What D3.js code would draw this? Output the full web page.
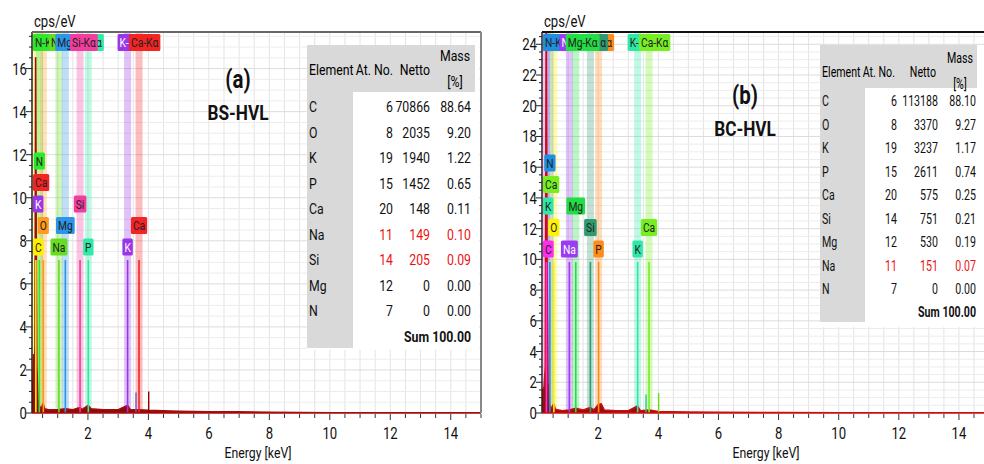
<!DOCTYPE html>
<html>
<head>
<meta charset="utf-8">
<script src="https://cdn.jsdelivr.net/npm/d3@7/dist/d3.min.js"></script>
<style>
  body { margin: 0; background: #fff; }
  svg { font-family: 'Roboto', 'Liberation Sans', sans-serif; }
</style>
</head>
<body>
<svg id="fig" width="984" height="464"></svg>
<script>
// ---- data ----
// spectrum points [energy keV, cps/eV]
const spectrumA = [[0.15,0],[0.18,1.4],[0.2,2.7],[0.22,1.0],[0.25,3.2],[0.27,16.5],[0.29,8],[0.31,2.2],[0.35,0.6],[0.4,0.3],
  [0.45,0.2],[0.52,0.45],[0.56,0.2],[0.7,0.15],[1.0,0.15],[1.25,0.2],[1.5,0.15],[1.74,0.25],[1.8,0.15],[2.01,0.35],
  [2.1,0.2],[2.5,0.15],[3.0,0.15],[3.31,0.35],[3.4,0.15],[3.7,0.15],[4.0,0.12],[5,0.08],[6,0.06],[7,0.05],[8,0.03],
  [9,0.02],[10,0.01],[15,0.01]];
const spectrumB = [[0.13,0],[0.15,1.5],[0.2,1.7],[0.24,3],[0.27,26],[0.3,9],[0.33,2],[0.38,0.5],[0.45,0.3],[0.52,0.6],
  [0.57,0.25],[0.8,0.15],[1.04,0.2],[1.25,0.3],[1.5,0.2],[1.74,0.35],[1.85,0.2],[2.01,0.55],[2.1,0.6],[2.2,0.2],
  [2.6,0.15],[3.0,0.15],[3.31,0.45],[3.4,0.15],[3.69,0.2],[4.0,0.1],[5,0.06],[6,0.05],[8,0.03],[10,0.02],[15,0.01]];

// identified K-alpha lines
const lineElements = ['C', 'N', 'O', 'Na', 'Mg', 'Si', 'P', 'K', 'Ca'];
const lineKeV = [0.277, 0.392, 0.525, 1.041, 1.253, 1.740, 2.013, 3.312, 3.690];
// L lines labelled at the low-energy end
const lLineElements = ['K', 'Ca'];
const lLineKeV = [0.26, 0.341];
// K-beta stubs
const kbElements = ['K', 'Ca'];
const kbKeV = [3.59, 4.01];
const kbCpsA = [0.95, 1.0];
const kbCpsB = [1.2, 1.3];

// quantification tables
const tabElemA = ['C', 'O', 'K', 'P', 'Ca', 'Na', 'Si', 'Mg', 'N'];
const tabAtNoA = [6, 8, 19, 15, 20, 11, 14, 12, 7];
const tabNettoA = [70866, 2035, 1940, 1452, 148, 149, 205, 0, 0];
const tabMassA = [88.64, 9.20, 1.22, 0.65, 0.11, 0.10, 0.09, 0.00, 0.00];
const tabFlagA = ['Na', 'Si'];

const tabElemB = ['C', 'O', 'K', 'P', 'Ca', 'Si', 'Mg', 'Na', 'N'];
const tabAtNoB = [6, 8, 19, 15, 20, 14, 12, 11, 7];
const tabNettoB = [113188, 3370, 3237, 2611, 575, 751, 530, 151, 0];
const tabMassB = [88.10, 9.27, 1.17, 0.74, 0.25, 0.21, 0.19, 0.07, 0.00];
const tabFlagB = ['Na'];

const xTicks = [2, 4, 6, 8, 10, 12, 14];
const yTicksA = [0, 2, 4, 6, 8, 10, 12, 14, 16];
const yTicksB = [0, 2, 4, 6, 8, 10, 12, 14, 16, 18, 20, 22, 24];

// horizontal squeeze so Roboto reads like the narrow original face
const SQ = 0.82;
const place = (x, y, s = SQ) => `translate(${x},${y}) scale(${s},1)`;

class EdsPanel {

  constructor(_config) {
    this.config = _config;
    this.initVis();
  }

  initVis() {
    let vis = this;
    const c = vis.config;

    vis.xScale = d3.scaleLinear().domain(c.xDomain).range(c.xRange);
    vis.yScale = d3.scaleLinear().domain([0, c.yMax]).range([c.bottom, c.top]);

    vis.g = d3.select('#fig').append('g');
    vis.left = c.xRange[0];
    vis.right = Math.min(c.xRange[1], 984);

    vis.clipId = 'clip-' + c.id;
    vis.g.append('clipPath').attr('id', vis.clipId)
      .append('rect')
      .attr('x', vis.left).attr('y', c.top)
      .attr('width', vis.right - vis.left).attr('height', c.bottom - c.top);

    // scratch text used to measure label widths
    vis.meas = vis.g.append('text').attr('font-size', 12.5).attr('visibility', 'hidden');

    vis.renderVis();
  }

  textW(s) {
    this.meas.text(s);
    return this.meas.node().getComputedTextLength() * SQ;
  }

  renderVis() {
    let vis = this;
    const c = vis.config;
    const x = vis.xScale, y = vis.yScale;

    // light grid
    const grid = vis.g.append('g').attr('clip-path', `url(#${vis.clipId})`);
    grid.selectAll('.vgrid')
      .data(d3.range(0.5, 15.01, 0.5))
      .join('line')
      .attr('x1', d => x(d)).attr('x2', d => x(d))
      .attr('y1', c.top).attr('y2', c.bottom)
      .attr('stroke', '#e3e3e3').attr('stroke-width', 1);
    grid.selectAll('.hgrid')
      .data(d3.range(0.5, c.yMax, 0.5))
      .join('line')
      .attr('x1', vis.left).attr('x2', vis.right)
      .attr('y1', d => y(d)).attr('y2', d => y(d))
      .attr('stroke', d => d % 2 === 0 ? '#dcdcdc' : '#ececec').attr('stroke-width', 1);

    // translucent bands for every identified line
    const lines = lineElements.map((el, i) => ({ el, kev: lineKeV[i] }));
    const marks = vis.g.append('g').attr('clip-path', `url(#${vis.clipId})`);
    marks.selectAll('.band')
      .data(lines)
      .join('rect')
      .attr('x', d => x(d.kev) - 3.5).attr('width', 7)
      .attr('y', c.top).attr('height', c.bottom - c.top)
      .attr('fill', d => c.colors[d.el]).attr('opacity', 0.3);

    // spectrum
    const area = d3.area()
      .x(d => x(d[0]))
      .y0(y(0))
      .y1(d => y(d[1]));
    marks.append('path')
      .datum(c.spectrum)
      .attr('d', area)
      .attr('fill', c.specFill)
      .attr('stroke', c.specStroke)
      .attr('stroke-width', 1.6)
      .attr('stroke-linejoin', 'round');

    // solid stems under the labels
    marks.selectAll('.stem')
      .data(lines)
      .join('line')
      .attr('x1', d => x(d.kev)).attr('x2', d => x(d.kev))
      .attr('y1', c.labelBase + 13).attr('y2', y(0))
      .attr('stroke', d => c.colors[d.el]).attr('stroke-width', 1.6);

    // K-beta stubs
    const kb = kbElements.map((el, i) => ({ el, kev: kbKeV[i], v: c.kbCps[i] }));
    marks.selectAll('.kb')
      .data(kb)
      .join('line')
      .attr('x1', d => x(d.kev)).attr('x2', d => x(d.kev))
      .attr('y1', d => y(d.v)).attr('y2', y(0))
      .attr('stroke', d => c.kbColors[d.el]).attr('stroke-width', 1.4);

    vis.renderTopTags();

    // tiered element tags
    const tagG = vis.g.append('g');
    lines.forEach(d => {
      vis.addTag(tagG, d.el, d.el, x(d.kev), c.labelBase - c.tiers[d.el] * 21.5 - 8.5);
    });
    lLineElements.forEach((el, i) => {
      vis.addTag(tagG, el, el, x(lLineKeV[i]), c.labelBase - c.lTiers[el] * 21.5 - 8.5);
    });

    // y axis
    vis.g.append('line')
      .attr('x1', vis.left).attr('x2', vis.left)
      .attr('y1', c.top).attr('y2', c.bottom)
      .attr('stroke', '#222').attr('stroke-width', 1.5);
    vis.g.selectAll('.yminor')
      .data(d3.range(0, c.yMax, 0.5))
      .join('line')
      .attr('x1', vis.left).attr('x2', d => vis.left - (d % 2 === 0 ? 6 : 3))
      .attr('y1', d => y(d)).attr('y2', d => y(d))
      .attr('stroke', '#222').attr('stroke-width', 1);
    vis.g.selectAll('.ylab')
      .data(c.yTicks)
      .join('text')
      .attr('transform', d => place(vis.left - 5, y(d) + 6))
      .attr('text-anchor', 'end')
      .attr('font-size', 16).attr('fill', '#111')
      .text(d => d);

    // x axis
    vis.g.append('line')
      .attr('x1', vis.left).attr('x2', vis.right)
      .attr('y1', y(0)).attr('y2', y(0))
      .attr('stroke', c.specStroke).attr('stroke-width', 1.6);
    vis.g.selectAll('.xminor')
      .data(d3.range(0.5, 15.01, 0.5))
      .join('line')
      .attr('x1', d => x(d)).attr('x2', d => x(d))
      .attr('y1', y(0) + 1).attr('y2', d => y(0) + (d % 2 === 0 ? 7 : 5))
      .attr('stroke', '#333').attr('stroke-width', 1);
    vis.g.selectAll('.xlab')
      .data(xTicks)
      .join('text')
      .attr('transform', d => place(x(d), y(0) + 26))
      .attr('text-anchor', 'middle')
      .attr('font-size', 16).attr('fill', '#111')
      .text(d => d);

    vis.g.append('text')
      .attr('transform', place(c.energyX, 458))
      .attr('text-anchor', 'middle')
      .attr('font-size', 15).attr('fill', '#111')
      .text('Energy [keV]');
    vis.g.append('text')
      .attr('transform', place(vis.left + 2, 27))
      .attr('font-size', 16).attr('fill', '#111')
      .text('cps/eV');

    // frame: top and right
    vis.g.append('line')
      .attr('x1', vis.left).attr('x2', vis.right)
      .attr('y1', c.top).attr('y2', c.top)
      .attr('stroke', c.frameColor).attr('stroke-width', 2);
    if (c.xRange[1] < 984) {
      vis.g.append('line')
        .attr('x1', vis.right).attr('x2', vis.right)
        .attr('y1', c.top).attr('y2', c.bottom)
        .attr('stroke', '#888').attr('stroke-width', 2);
    }

    // sample title
    vis.g.append('text')
      .attr('transform', place(c.titleX, c.titleY))
      .attr('text-anchor', 'middle')
      .attr('font-size', 25).attr('font-weight', 'bold').attr('fill', '#111')
      .text(c.title);
    vis.g.append('text')
      .attr('transform', place(c.titleX, c.titleY + 32))
      .attr('text-anchor', 'middle')
      .attr('font-size', 21).attr('font-weight', 'bold').attr('fill', '#111')
      .text(c.subtitle);

    vis.renderTable();
  }

  // top row of line names, each partly hidden by the next one drawn
  renderTopTags() {
    let vis = this;
    const c = vis.config;
    const boxes = c.topOrder.map(el => {
      const label = el + '-K\u03b1';
      const w = vis.textW(label) + 4;
      const left = Math.max(vis.left + 1, vis.xScale(lineKeV[lineElements.indexOf(el)]) - 10);
      return { el, label, left, right: left + w };
    });
    boxes.forEach((b, i) => {
      let a = b.left, e = b.right, tail = false;
      boxes.slice(i + 1).forEach(o => {
        if (o.right <= a || o.left >= e) return;
        if (o.left <= a + 0.5) { a = Math.max(a, o.right); tail = true; }
        else e = Math.min(e, o.left);
      });
      b.a = a; b.e = e; b.tail = tail;
    });

    const g = vis.g.append('g');
    boxes.forEach(b => {
      g.append('rect')
        .attr('x', b.left).attr('y', c.top + 2)
        .attr('width', b.right - b.left).attr('height', 17)
        .attr('rx', 1.5).attr('fill', c.colors[b.el]);
      const avail = b.e - b.a - 2;
      if (avail < 4) return;
      // keep the part of the label that is not covered
      let s = b.label;
      while (s.length > 1 && vis.textW(s) > avail + 3) s = b.tail ? s.slice(1) : s.slice(0, -1);
      g.append('text')
        .attr('transform', b.tail ? place(b.right - 2, c.top + 15) : place(b.left + 2, c.top + 15))
        .attr('text-anchor', b.tail ? 'end' : 'start')
        .attr('font-size', 12.5)
        .attr('fill', c.textColors[b.el] || '#222')
        .text(s);
    });
  }

  addTag(parent, label, el, px, top) {
    let vis = this;
    const c = vis.config;
    const w = vis.textW(label) + 4;
    const left = Math.max(vis.left + 1, px - w / 2);
    parent.append('rect')
      .attr('x', left).attr('y', top).attr('width', w).attr('height', 17)
      .attr('rx', 1.5)
      .attr('fill', c.colors[el]);
    parent.append('text')
      .attr('transform', place(left + 2, top + 13))
      .attr('font-size', 12.5)
      .attr('fill', c.textColors[el] || '#222')
      .text(label);
  }

  renderTable() {
    let vis = this;
    const t = vis.config.table;
    const g = vis.g.append('g');
    const n = t.elem.length;
    const s = t.squeeze;

    g.append('rect')
      .attr('x', t.x).attr('y', t.y).attr('width', t.w).attr('height', t.h)
      .attr('fill', '#fff');
    g.append('rect')
      .attr('x', t.x).attr('y', t.y).attr('width', t.greyW).attr('height', t.headH)
      .attr('fill', '#d9d9d9');
    g.append('rect')
      .attr('x', t.x).attr('y', t.y).attr('width', t.colW).attr('height', t.colH)
      .attr('fill', '#d9d9d9');

    const fs = t.fontSize;
    g.append('text').attr('transform', place(t.x + 2, t.headY, s))
      .attr('font-size', fs).text('Element');
    g.append('text').attr('transform', place(t.atNoHeadX, t.headY, s))
      .attr('font-size', fs).attr('text-anchor', 'end').text('At. No.');
    g.append('text').attr('transform', place(t.nettoHeadX, t.headY, s))
      .attr('font-size', fs).attr('text-anchor', 'end').text('Netto');
    g.append('text').attr('transform', place(t.massX - 16, t.headY - 14, s))
      .attr('font-size', fs).attr('text-anchor', 'middle').text('Mass');
    g.append('text').attr('transform', place(t.massX - 16, t.headY + 12, s))
      .attr('font-size', fs).attr('text-anchor', 'middle').text('[%]');

    const rows = d3.range(n).map(i => ({
      el: t.elem[i], atNo: t.atNo[i], netto: t.netto[i], mass: t.mass[i],
      flag: t.flag.includes(t.elem[i])
    }));
    const rowG = g.selectAll('.row')
      .data(rows)
      .join('g')
      .attr('transform', (d, i) => `translate(0,${t.rowY + i * t.rowH})`)
      .attr('font-size', fs);
    rowG.append('text').attr('transform', place(t.x + 2, 0, s)).attr('fill', '#111').text(d => d.el);
    rowG.append('text').attr('transform', place(t.atNoX, 0, s)).attr('text-anchor', 'end')
      .attr('fill', d => d.flag ? '#ee1111' : '#111').text(d => d.atNo);
    rowG.append('text').attr('transform', place(t.nettoX, 0, s)).attr('text-anchor', 'end')
      .attr('fill', d => d.flag ? '#ee1111' : '#111').text(d => d.netto);
    rowG.append('text').attr('transform', place(t.massX, 0, s)).attr('text-anchor', 'end')
      .attr('fill', d => d.flag ? '#ee1111' : '#111').text(d => d.mass.toFixed(2));

    g.append('text').attr('transform', place(t.massX, t.sumY, s))
      .attr('text-anchor', 'end').attr('font-size', fs).attr('font-weight', 'bold')
      .attr('fill', '#111').text('Sum 100.00');
  }
}

// ---- panel (a) ----
new EdsPanel({
  id: 'a',
  xDomain: [0.15, 15], xRange: [32, 481],
  yMax: 17.7, top: 32, bottom: 413,
  spectrum: spectrumA, kbCps: kbCpsA,
  specFill: '#8e0a0a', specStroke: '#a50d0d', frameColor: '#666',
  colors: { C: '#ffee00', N: '#2ee82e', O: '#ff9a1a', Na: '#66dd22', Mg: '#2b95e8',
    Si: '#f23c9e', P: '#2eeaa6', K: '#9a35e8', Ca: '#f22424' },
  kbColors: { K: '#6a5acd', Ca: '#8b0000' },
  textColors: { K: '#fff' },
  tiers: { C: 0, O: 1, N: 4, Na: 0, Mg: 1, Si: 2, P: 0, K: 0, Ca: 1 },
  lTiers: { K: 2, Ca: 3 },
  topOrder: ['C', 'O', 'N', 'Na', 'Mg', 'P', 'Si', 'K', 'Ca'],
  labelBase: 247,
  yTicks: yTicksA,
  energyX: 258,
  title: '(a)', subtitle: 'BS-HVL', titleX: 238, titleY: 88,
  table: {
    elem: tabElemA, atNo: tabAtNoA, netto: tabNettoA, mass: tabMassA, flag: tabFlagA,
    x: 307, y: 45, w: 172, h: 305, greyW: 168, headH: 47, colW: 46, colH: 303,
    headY: 75, rowY: 112, rowH: 25.5, sumY: 342, fontSize: 15, squeeze: 0.82,
    atNoHeadX: 393, nettoHeadX: 430, atNoX: 393, nettoX: 430, massX: 471
  }
});

// ---- panel (b) ----
new EdsPanel({
  id: 'b',
  xDomain: [0.13, 15], xRange: [542, 989],
  yMax: 24.8, top: 32, bottom: 413,
  spectrum: spectrumB, kbCps: kbCpsB,
  specFill: '#9a0c0c', specStroke: '#c80f0f', frameColor: '#111',
  colors: { C: '#ff2cf0', N: '#1f8fe0', O: '#fff200', Na: '#9b3cf0', Mg: '#22dd44',
    Si: '#2f9a70', P: '#ff8c1a', K: '#2ee8a8', Ca: '#77ee22' },
  kbColors: { K: '#22cc88', Ca: '#66dd11' },
  textColors: { Na: '#fff' },
  tiers: { C: 0, O: 1, N: 4, Na: 0, Mg: 2, Si: 1, P: 0, K: 0, Ca: 1 },
  lTiers: { K: 2, Ca: 3 },
  topOrder: ['C', 'O', 'N', 'Na', 'P', 'Si', 'Mg', 'K', 'Ca'],
  labelBase: 249,
  yTicks: yTicksB,
  energyX: 766,
  title: '(b)', subtitle: 'BC-HVL', titleX: 745, titleY: 104,
  table: {
    elem: tabElemB, atNo: tabAtNoB, netto: tabNettoB, mass: tabMassB, flag: tabFlagB,
    x: 820, y: 45, w: 164, h: 282, greyW: 157, headH: 43, colW: 45, colH: 277,
    headY: 77, rowY: 106, rowH: 23.5, sumY: 317, fontSize: 14, squeeze: 0.76,
    atNoHeadX: 895, nettoHeadX: 936, atNoX: 897, nettoX: 938, massX: 976
  }
});
</script>
</body>
</html>
